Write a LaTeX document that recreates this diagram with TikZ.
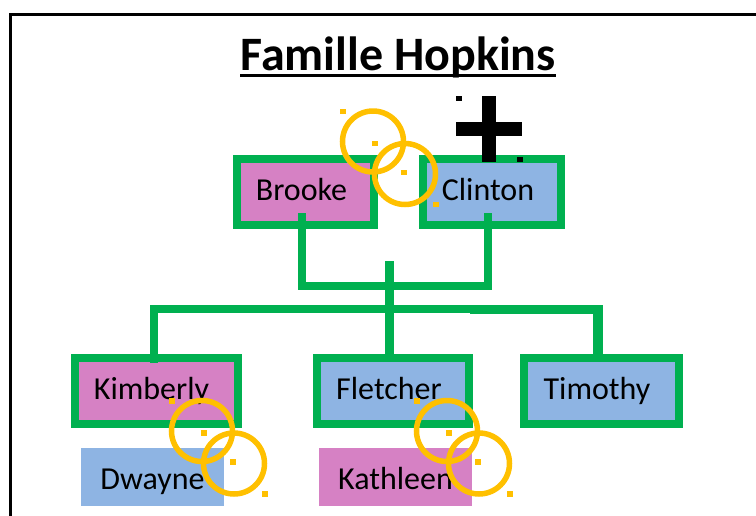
\documentclass[tikz,border=0pt]{standalone}
\usepackage{fontspec}
\setmainfont{Carlito}
\definecolor{treegreen}{HTML}{00B050}
\definecolor{girlpink}{HTML}{D681C4}
\definecolor{boyblue}{HTML}{8EB4E3}
\definecolor{ringgold}{HTML}{FFC000}
\tikzset{
	person/.style={draw=treegreen, line width=8.6pt, minimum height=66pt, inner sep=0pt},
	spouse/.style={minimum height=58pt, inner sep=0pt, outer sep=0pt},
	personname/.style={anchor=base, inner sep=0pt, font=\fontsize{32pt}{36pt}\selectfont},
	link/.style={draw=treegreen, line width=8.6pt}
}

\begin{document}
\begin{tikzpicture}
	[
	x=1pt, y=-1pt
	]

	\useasboundingbox (0,0) rectangle (756,515);

	%Rahmen
	\draw [line width=3pt] (10,518) -- (10,14) -- (759,14);

	%Titel
	\node [personname, font=\fontsize{48pt}{52pt}\selectfont\bfseries] (title) at (398,70) {Famille Hopkins};
	\draw [line width=3.3pt] ([yshift=-5.7pt]title.base west) -- ([yshift=-5.7pt]title.base east);

	%Personen
	\node [person, fill=girlpink, minimum width=137pt] (brooke) at (305.5,192) {};
	\node [person, fill=boyblue, minimum width=138pt] (clinton) at (492,192) {};
	\node [person, fill=girlpink, minimum width=163pt] (kimberly) at (156.5,391) {};
	\node [person, fill=boyblue, minimum width=152pt] (fletcher) at (393,391) {};
	\node [person, fill=boyblue, minimum width=155pt] (timothy) at (601.5,391) {};
	\node [spouse, fill=boyblue, minimum width=143pt] (dwayne) at (152.5,477) {};
	\node [spouse, fill=girlpink, minimum width=153pt] (kathleen) at (395.5,477) {};

	%Linien zwischen den Personen
	\coordinate (trunktop) at (389.5,261);
	\coordinate (coupleline) at (389.5,286);
	\coordinate (barmid) at (470,309);
	\coordinate (barright) at (470,309.5);
	\draw [link] ([xshift=-3.5pt,yshift=16pt]brooke.south) |- (coupleline);
	\draw [link] ([xshift=-4pt,yshift=16pt]clinton.south) |- (coupleline);
	\draw [link] (trunktop) -- ([xshift=-3.5pt]fletcher.north);
	\draw [link] ([xshift=-2.5pt,yshift=-9pt]kimberly.north) |- (barmid);
	\draw [link, line width=9.6pt] ([xshift=-3.5pt]timothy.north) |- (barright);

	%Namen
	\node [personname] (brookename) at (301.5,200) {Brooke};
	\node [personname] (clintonname) at (488,200) {Clinton};
	\node [personname] (kimberlyname) at (151.5,399) {Kimberly};
	\node [personname] (fletchername) at (389,399) {Fletcher};
	\node [personname] (timothyname) at (597,399) {Timothy};
	\node [personname] (dwaynename) at (152.5,489) {Dwayne};
	\node [personname] (kathleenname) at (395.5,489) {Kathleen};

	%Kreuz
	\fill (481.7,96) rectangle (496,162.3);
	\fill (455.7,121.7) rectangle (521.7,135.7);
	\fill (455.7,96.2) rectangle ++(6,5);
	\fill (516.7,156.5) rectangle ++(6,5);

	%Ringe
	\foreach \ringx/\ringy in {373/141.5,202/431,447/431}
	{
		\draw [ringgold, line width=5.5pt] (\ringx,\ringy) circle (30.5pt);
		\draw [ringgold, line width=5.5pt] ({\ringx+32},{\ringy+32.5}) circle (30.5pt);
		\foreach \handle in {-30,2,31,63}
		\fill [ringgold] ({\ringx+\handle-3.3},{\ringy+\handle-2.8}) rectangle ++(6.6,5.6);
	}

\end{tikzpicture}
\end{document}
